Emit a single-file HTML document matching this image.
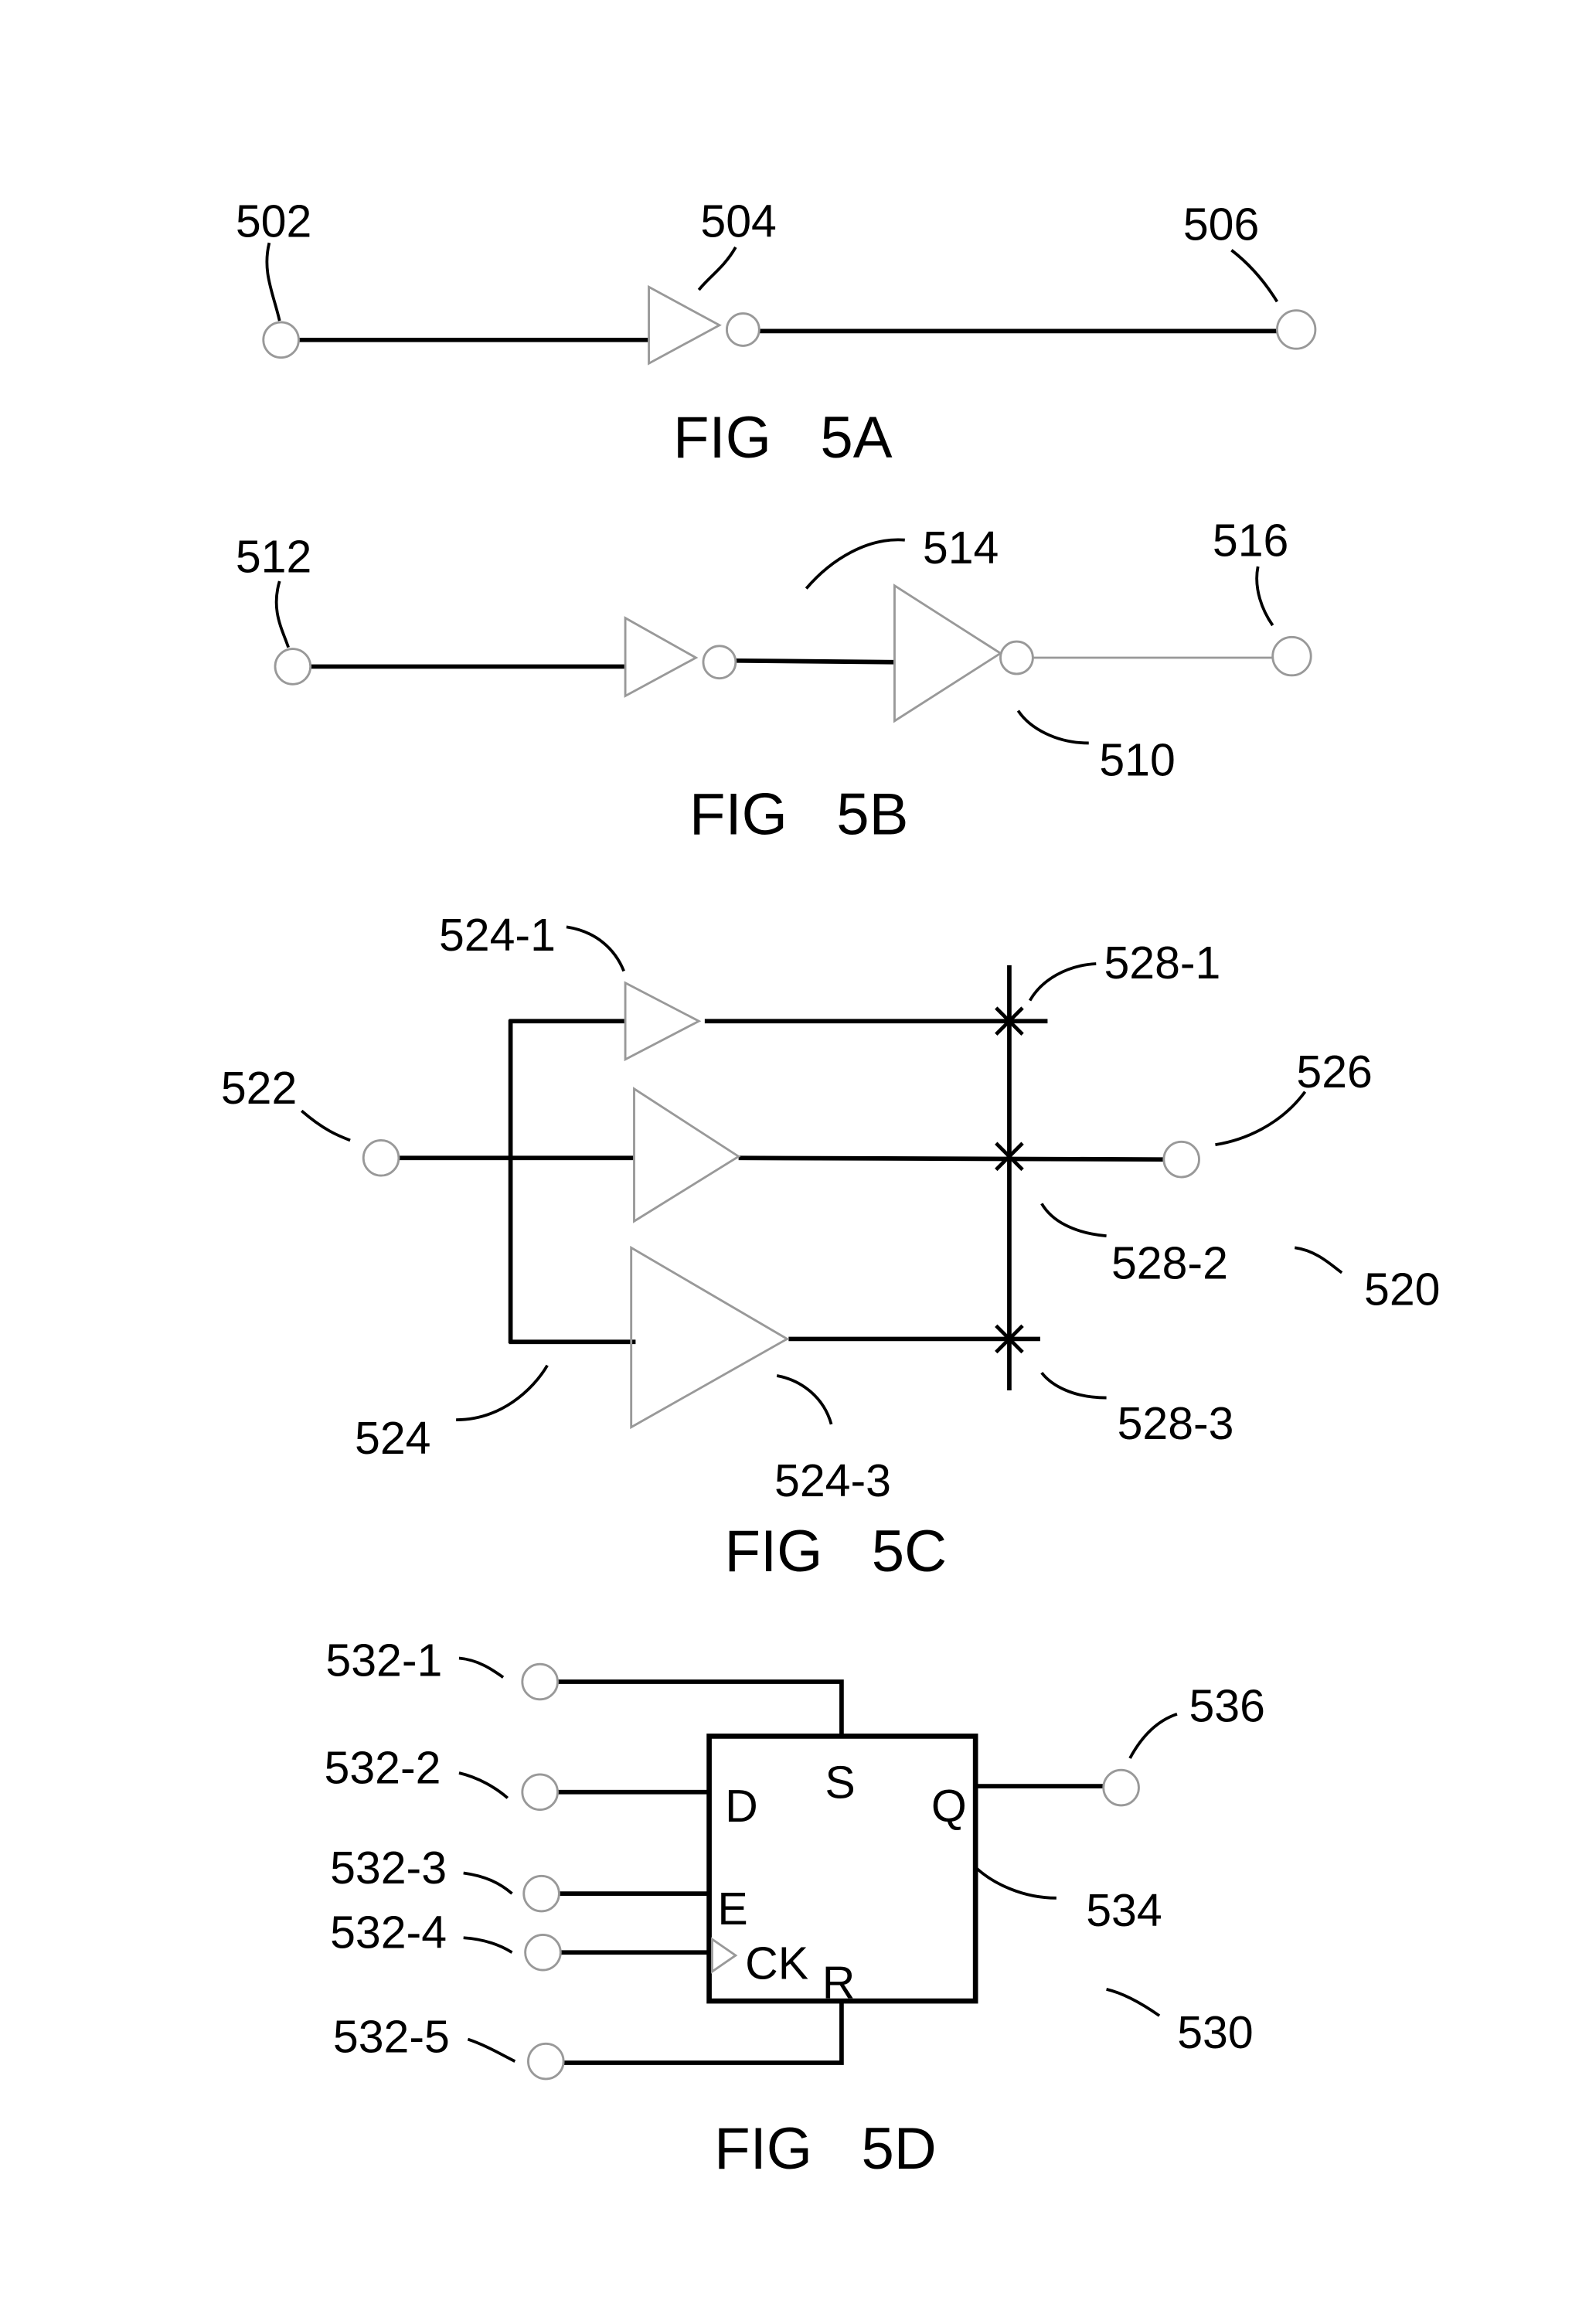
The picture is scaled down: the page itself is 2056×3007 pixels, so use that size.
<!DOCTYPE html>
<html><head><meta charset="utf-8"><style>html,body{margin:0;padding:0;background:#fff}svg{display:block}</style></head>
<body>
<svg width="2056" height="3007" viewBox="0 0 1080 1579.5" xmlns="http://www.w3.org/2000/svg" font-family="Liberation Sans, Arial, sans-serif">
<g fill="none" stroke="#000" stroke-width="3">
<line x1="203" y1="231" x2="441" y2="231"/>
<line x1="516" y1="225" x2="868" y2="225"/>
<line x1="211" y1="453" x2="425" y2="453"/>
<line x1="500" y1="449" x2="608" y2="450"/>
<line x1="271" y1="787" x2="431" y2="787"/>
<line x1="347" y1="693" x2="347" y2="913"/>
<line x1="346" y1="694" x2="425" y2="694"/>
<line x1="346" y1="912" x2="432" y2="912"/>
<line x1="479" y1="694" x2="712" y2="694"/>
<line x1="502" y1="787" x2="791" y2="788"/>
<line x1="536" y1="910" x2="707" y2="910"/>
<line x1="686" y1="656" x2="686" y2="945"/>
<path d="M677 685l18 18M695 685l-18 18M677 777l18 18M695 777l-18 18M677 901l18 18M695 901l-18 18" stroke-width="2.5"/>
<rect x="482" y="1180" width="181" height="180" stroke-width="3.5"/>
<path d="M379 1143H572V1180"/>
<line x1="379" y1="1218" x2="482" y2="1218"/>
<line x1="380" y1="1287" x2="482" y2="1287"/>
<line x1="381" y1="1327" x2="482" y2="1327"/>
<path d="M383 1402H572V1360"/>
<line x1="663" y1="1214" x2="750" y2="1214"/>
</g>
<g fill="none" stroke="#999" stroke-width="1.5">
<circle cx="191" cy="231" r="12"/>
<polygon points="441,195 441,247 489,221"/>
<circle cx="505" cy="224" r="11"/>
<circle cx="881" cy="224" r="13"/>
<circle cx="199" cy="453" r="12"/>
<polygon points="425,420 425,473 473,447"/>
<circle cx="489" cy="450" r="11"/>
<polygon points="608,398 608,490 680,444"/>
<circle cx="691" cy="447" r="11"/>
<line x1="702" y1="447" x2="865" y2="447"/>
<circle cx="878" cy="446" r="13"/>
<circle cx="259" cy="787" r="12"/>
<polygon points="425,668 425,720 475,694"/>
<polygon points="431,740 431,830 502,786"/>
<polygon points="429,848 429,970 535,910"/>
<circle cx="803" cy="788" r="12"/>
<circle cx="367" cy="1143" r="12"/>
<circle cx="367" cy="1218" r="12"/>
<circle cx="368" cy="1287" r="12"/>
<circle cx="369" cy="1327" r="12"/>
<circle cx="371" cy="1401" r="12"/>
<circle cx="762" cy="1215" r="12"/>
<polygon points="484,1318 484,1340 500,1329"/>
</g>
<g fill="none" stroke="#000" stroke-width="2">
<path d="M183 165C178 185 186 200 190 218"/>
<path d="M500 168C492 182 482 188 475 197"/>
<path d="M837 170C850 180 860 192 868 205"/>
<path d="M190 395C184 415 192 428 196 440"/>
<path d="M615 367C590 365 565 380 548 400"/>
<path d="M855 385C852 400 858 415 865 425"/>
<path d="M740 505C718 505 700 495 692 483"/>
<path d="M385 630C405 633 418 645 424 660"/>
<path d="M745 655C725 656 708 666 700 680"/>
<path d="M205 755C220 768 230 772 238 775"/>
<path d="M887 742C870 765 845 775 826 778"/>
<path d="M752 840C730 838 715 830 708 818"/>
<path d="M880 848C895 850 905 860 912 865"/>
<path d="M310 965C340 965 362 945 372 928"/>
<path d="M565 968C560 950 545 938 528 935"/>
<path d="M752 950C730 950 715 942 708 933"/>
<path d="M312 1127C325 1128 335 1135 342 1140"/>
<path d="M312 1205C325 1208 337 1215 345 1222"/>
<path d="M315 1273C330 1275 340 1280 348 1287"/>
<path d="M315 1317C330 1318 340 1322 348 1327"/>
<path d="M318 1386C330 1390 340 1396 350 1401"/>
<path d="M800 1165C785 1170 775 1182 768 1195"/>
<path d="M718 1290C695 1290 675 1280 664 1270"/>
<path d="M752 1352C765 1355 778 1363 788 1370"/>
</g>
<g font-size="31" fill="#000" text-anchor="middle">
<text x="186" y="161">502</text>
<text x="502" y="161">504</text>
<text x="830" y="163">506</text>
<text x="186" y="389">512</text>
<text x="653" y="383">514</text>
<text x="850" y="378">516</text>
<text x="773" y="527">510</text>
<text x="338" y="646">524-1</text>
<text x="790" y="665">528-1</text>
<text x="176" y="750">522</text>
<text x="907" y="739">526</text>
<text x="795" y="869">528-2</text>
<text x="953" y="887">520</text>
<text x="267" y="988">524</text>
<text x="566" y="1017">524-3</text>
<text x="799" y="978">528-3</text>
<text x="261" y="1139">532-1</text>
<text x="260" y="1212">532-2</text>
<text x="264" y="1280">532-3</text>
<text x="264" y="1324">532-4</text>
<text x="266" y="1395">532-5</text>
<text x="834" y="1170">536</text>
<text x="764" y="1309">534</text>
<text x="826" y="1392">530</text>
<text x="504" y="1238">D</text>
<text x="571" y="1222">S</text>
<text x="645" y="1238">Q</text>
<text x="498" y="1308">E</text>
<text x="528" y="1345">CK</text>
<text x="570" y="1358">R</text>
</g>
<g font-size="40" fill="#000" text-anchor="middle">
<text x="532" y="311" xml:space="preserve">FIG   5A</text>
<text x="543" y="567" xml:space="preserve">FIG   5B</text>
<text x="568" y="1068" xml:space="preserve">FIG   5C</text>
<text x="561" y="1474" xml:space="preserve">FIG   5D</text>
</g>
</svg>
</body></html>
